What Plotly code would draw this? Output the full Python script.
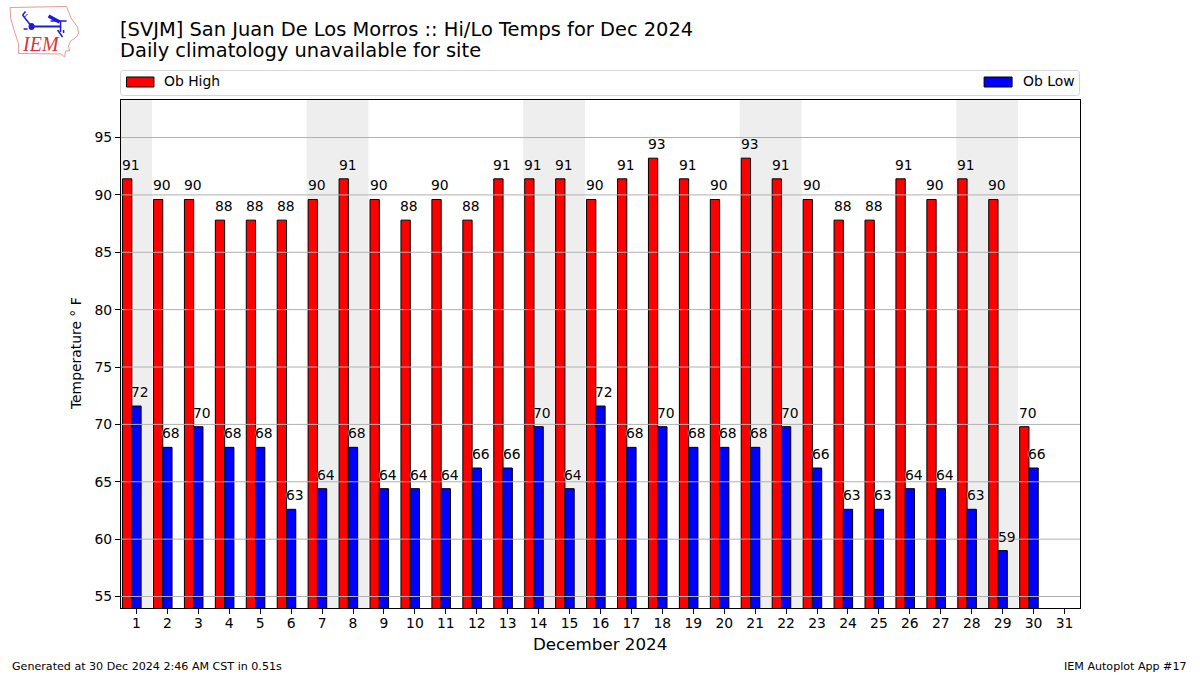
import plotly.graph_objects as go

days = list(range(1, 32))
data_days = list(range(1, 31))
highs = [91.4, 89.6, 89.6, 87.8, 87.8, 87.8, 89.6, 91.4, 89.6, 87.8, 89.6, 87.8, 91.4, 91.4, 91.4,
         89.6, 91.4, 93.2, 91.4, 89.6, 93.2, 91.4, 89.6, 87.8, 87.8, 91.4, 89.6, 91.4, 89.6, 69.8]
lows = [71.6, 68.0, 69.8, 68.0, 68.0, 62.6, 64.4, 68.0, 64.4, 64.4, 64.4, 66.2, 66.2, 69.8, 64.4,
        71.6, 68.0, 69.8, 68.0, 68.0, 68.0, 69.8, 66.2, 62.6, 62.6, 64.4, 64.4, 62.6, 59.0, 66.2]
high_labels = [91, 90, 90, 88, 88, 88, 90, 91, 90, 88, 90, 88, 91, 91, 91,
               90, 91, 93, 91, 90, 93, 91, 90, 88, 88, 91, 90, 91, 90, 70]
low_labels = [72, 68, 70, 68, 68, 63, 64, 68, 64, 64, 64, 66, 66, 70, 64,
              72, 68, 70, 68, 68, 68, 70, 66, 63, 63, 64, 64, 63, 59, 66]
weekend_spans = [(0.5, 1.5), (6.5, 8.5), (13.5, 15.5), (20.5, 22.5), (27.5, 29.5)]
y_ticks = [55, 60, 65, 70, 75, 80, 85, 90, 95]

FONT = "DejaVu Sans"
RED, BLUE, BAND, GRID = "#ff0000", "#0000ff", "#eeeeee", "#b0b0b0"
W, H, L, R, T, B = 1200, 675, 120.5, 119.5, 100, 67


def px(x):
    return (x - L) / (W - L - R)


def py(y):
    return (H - B - y) / (H - T - B)


def path(points, close=False):
    d = "M" + " L".join(f"{px(a):.5f},{py(b):.5f}" for a, b in points)
    return d + (" Z" if close else "")


shapes = []
annotations = []

for a, b in weekend_spans:
    shapes.append(dict(type="rect", xref="x", yref="paper", x0=a, x1=b, y0=0, y1=1,
                       fillcolor=BAND, line_width=0, layer="below"))
for v in y_ticks:
    shapes.append(dict(type="line", xref="paper", yref="y", x0=0, x1=1, y0=v, y1=v,
                       line=dict(color=GRID, width=1), layer="above"))

fig = go.Figure()
fig.add_bar(x=data_days, y=highs, name="Ob High", width=0.3, offset=-0.45,
            marker=dict(color=RED, line=dict(color="black", width=1)))
fig.add_bar(x=data_days, y=lows, name="Ob Low", width=0.3, offset=-0.15,
            marker=dict(color=BLUE, line=dict(color="black", width=1)))

halo = "0 0 1px white, 0 0 2px white"
for d, v, t in zip(data_days, highs, high_labels):
    annotations.append(dict(x=d - 0.45, y=v, text=str(t), xref="x", yref="y", showarrow=False,
                            xanchor="left", yanchor="bottom", yshift=5, xshift=-1.5, borderpad=0,
                            font=dict(family=FONT, size=13.9, color="black", shadow=halo)))
for d, v, t in zip(data_days, lows, low_labels):
    annotations.append(dict(x=d - 0.15, y=v, text=str(t), xref="x", yref="y", showarrow=False,
                            xanchor="left", yanchor="bottom", yshift=5, xshift=-1.5, borderpad=0,
                            font=dict(family=FONT, size=13.9, color="black", shadow=halo)))


def note(x, y, text, size, anchor="left", color="black", family=FONT, **kw):
    annotations.append(dict(x=px(x), y=py(y), xref="paper", yref="paper", text=text, showarrow=False,
                            xanchor=anchor, yanchor="middle", borderpad=0,
                            font=dict(family=family, size=size, color=color), **kw))


note(118.5, 51, "Daily climatology unavailable for site", 19.45)
note(10.5, 666, "Generated at 30 Dec 2024 2:46 AM CST in 0.51s", 11.1)
note(1188.5, 666, "IEM Autoplot App #17", 11.1, anchor="right")
note(600, 644, "December 2024", 16.7, anchor="center")
note(75.5, 354, "Temperature ° F", 13.9, anchor="center", textangle=-90)

# legend strip
x0, x1, y0, y1, r = 120, 1080, 70.5, 95.5, 3
box = (f"M{px(x0 + r):.5f},{py(y0):.5f} L{px(x1 - r):.5f},{py(y0):.5f} "
       f"Q{px(x1):.5f},{py(y0):.5f} {px(x1):.5f},{py(y0 + r):.5f} L{px(x1):.5f},{py(y1 - r):.5f} "
       f"Q{px(x1):.5f},{py(y1):.5f} {px(x1 - r):.5f},{py(y1):.5f} L{px(x0 + r):.5f},{py(y1):.5f} "
       f"Q{px(x0):.5f},{py(y1):.5f} {px(x0):.5f},{py(y1 - r):.5f} L{px(x0):.5f},{py(y0 + r):.5f} "
       f"Q{px(x0):.5f},{py(y0):.5f} {px(x0 + r):.5f},{py(y0):.5f} Z")
shapes.append(dict(type="path", xref="paper", yref="paper", path=box,
                   line=dict(color="#d5d5d5", width=1), fillcolor="white", layer="above"))
for (a, b), col in (((126, 153.5), RED), ((984.5, 1012.5), BLUE)):
    shapes.append(dict(type="rect", xref="paper", yref="paper", x0=px(a), x1=px(b), y0=py(87), y1=py(77),
                       fillcolor=col, line=dict(color="black", width=1), layer="above"))
note(162.5, 81, "Ob High", 13.9)
note(1022.5, 81, "Ob Low", 13.9)

# IEM logo
outline = [(9.5, 7.5), (66, 6.5), (68, 12), (71, 19), (77, 27), (78, 33), (76, 37), (70, 41), (68, 46),
           (69, 51), (65, 51), (64, 57), (60, 54), (18, 53.5), (18, 44), (14, 32), (10, 18)]
shapes.append(dict(type="path", xref="paper", yref="paper", path=path(outline, True),
                   line=dict(color="#e59a9a", width=1), layer="above"))
for pts, w in (([(31, 26.5), (60, 26.5)], 2), ([(31, 26.5), (22, 15)], 1.5), ([(22, 15), (25, 11.5)], 1.5),
               ([(24, 17), (27, 14)], 1), ([(48, 16), (59, 22)], 3.5), ([(50, 21), (66, 21)], 1.5),
               ([(60, 21), (60, 32)], 1.5), ([(57, 30), (62, 37)], 1.5), ([(63, 30), (63, 33)], 1.5),
               ([(23, 29), (27, 29)], 1.5)):
    shapes.append(dict(type="path", xref="paper", yref="paper", path=path(pts),
                       line=dict(color="#1a1ae0", width=w), layer="above"))
shapes.append(dict(type="circle", xref="paper", yref="paper", x0=px(28), x1=px(34), y0=py(30), y1=py(23),
                   fillcolor="#1a1ae0", line_width=0, layer="above"))
note(20, 44, "<i>IEM</i>", 20, color="#d8343c", family="Liberation Serif")

fig.update_layout(
    width=W, height=H, autosize=False,
    margin=dict(l=L, r=R, t=T, b=B, autoexpand=False),
    paper_bgcolor="white", plot_bgcolor="white",
    barmode="overlay", showlegend=False,
    font=dict(family=FONT, size=13.9, color="black"),
    title=dict(text="[SVJM] San Juan De Los Morros :: Hi/Lo Temps for Dec 2024", x=120 / W, xanchor="left",
               y=1 - 29 / H, yanchor="middle", xref="container", yref="container",
               pad=dict(l=0, r=0, t=0, b=0),
               font=dict(family=FONT, size=19.45, color="black")),
    shapes=shapes, annotations=annotations,
    xaxis=dict(range=[0.5, 31.5], tickmode="array", tickvals=days, ticktext=[str(d) for d in days],
               showgrid=False, zeroline=False, showline=True, mirror=True, linecolor="black", linewidth=1,
               ticks="outside", ticklen=5, tickcolor="black", tickwidth=1, layer="above traces",
               ticklabelstandoff=-3),
    yaxis=dict(range=[54.0, 98.27], tickmode="array", tickvals=y_ticks, ticktext=[str(v) for v in y_ticks],
               showgrid=False, zeroline=False, showline=True, mirror=True, linecolor="black", linewidth=1,
               ticks="outside", ticklen=5, tickcolor="black", tickwidth=1, layer="above traces"),
)
fig.write_html("out.html", config=dict(displayModeBar=False),
               post_script="document.body.style.margin='0';document.documentElement.style.overflow='hidden';")
